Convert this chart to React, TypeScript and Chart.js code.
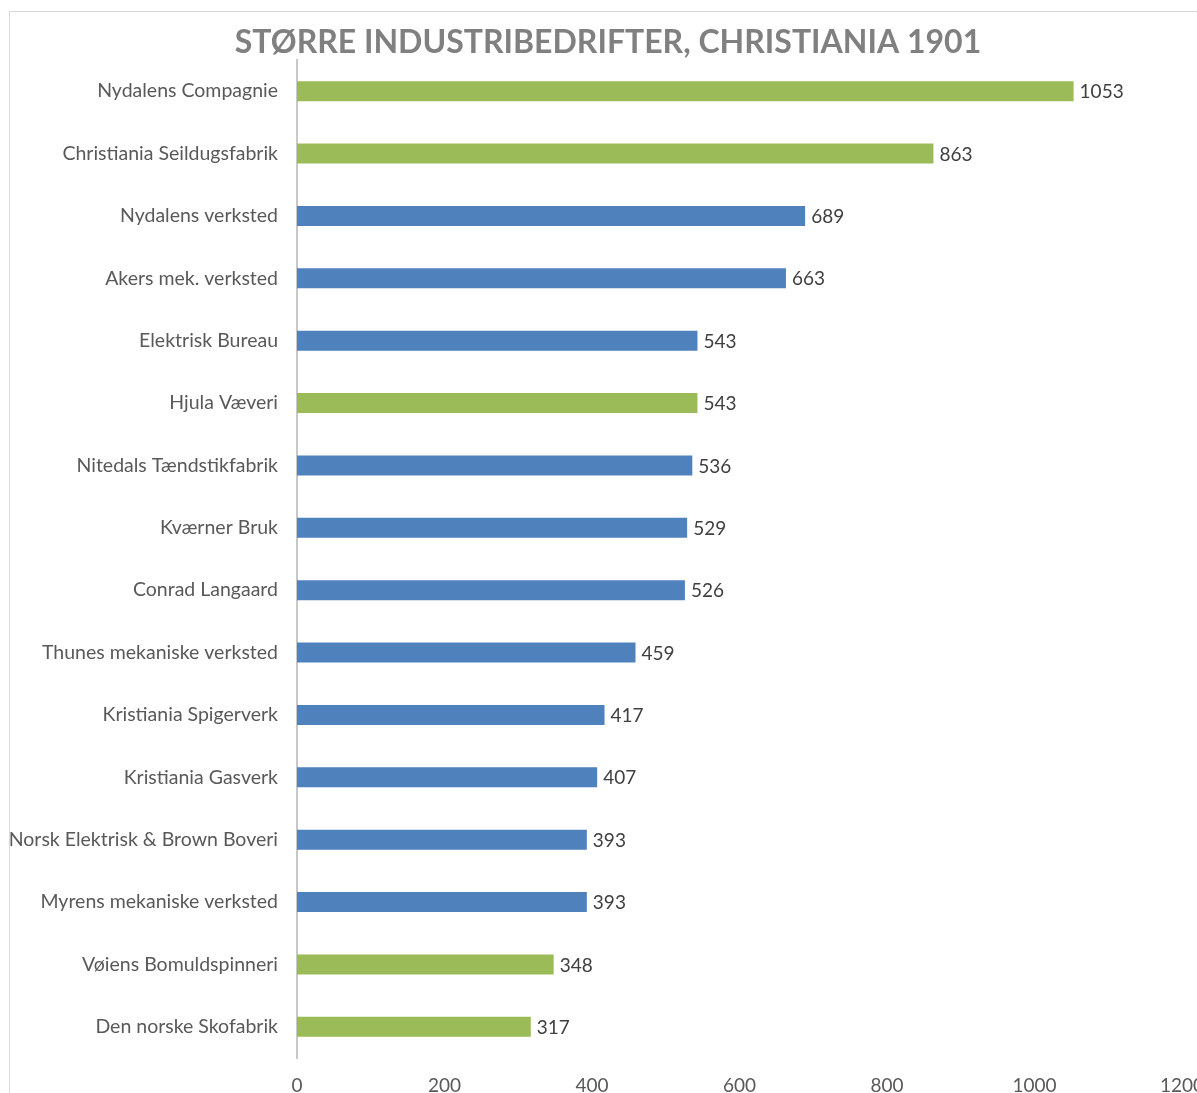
import React, { useEffect, useRef } from "react";
import { Chart, registerables } from "chart.js";

Chart.register(...registerables);

const companies: string[] = [
  "Nydalens Compagnie",
  "Christiania Seildugsfabrik",
  "Nydalens verksted",
  "Akers mek. verksted",
  "Elektrisk Bureau",
  "Hjula Væveri",
  "Nitedals Tændstikfabrik",
  "Kværner Bruk",
  "Conrad Langaard",
  "Thunes mekaniske verksted",
  "Kristiania Spigerverk",
  "Kristiania Gasverk",
  "Norsk Elektrisk & Brown Boveri",
  "Myrens mekaniske verksted",
  "Vøiens Bomuldspinneri",
  "Den norske Skofabrik",
];

const workers: number[] = [1053, 863, 689, 663, 543, 543, 536, 529, 526, 459, 417, 407, 393, 393, 348, 317];

// sector of each company: "tekstil" (green) or "annet" (blue)
const sectors: string[] = [
  "tekstil", "tekstil", "annet", "annet", "annet", "tekstil", "annet", "annet",
  "annet", "annet", "annet", "annet", "annet", "annet", "tekstil", "tekstil",
];

const xTicks: number[] = [0, 200, 400, 600, 800, 1000, 1200];

const TITLE = "STØRRE INDUSTRIBEDRIFTER, CHRISTIANIA 1901";

const sectorColor: Record<string, string> = {
  tekstil: "#9BBB59",
  annet: "#4F81BD",
};

const FONT = "Lato, 'Open Sans', sans-serif";

const valueLabels = {
  id: "valueLabels",
  afterDatasetsDraw(chart: any) {
    const ctx = chart.ctx;
    const meta = chart.getDatasetMeta(0);
    ctx.save();
    ctx.font = `19px ${FONT}`;
    ctx.fillStyle = "#404040";
    ctx.textAlign = "left";
    ctx.textBaseline = "middle";
    meta.data.forEach((el: any, i: number) => {
      const v = chart.data.datasets[0].data[i];
      ctx.fillText(String(v), el.x + 6, el.y + 1);
    });
    ctx.restore();
  },
};

const chartTitle = {
  id: "chartTitle",
  afterDraw(chart: any, _args: any, opts: any) {
    const ctx = chart.ctx;
    ctx.save();
    ctx.font = `bold 32px ${FONT}`;
    ctx.fillStyle = "#808080";
    ctx.textAlign = "center";
    ctx.textBaseline = "alphabetic";
    ctx.fillText(opts.text, 598, 41);
    ctx.restore();
  },
};

export default function App() {
  const ref = useRef<HTMLCanvasElement | null>(null);
  useEffect(() => {
    if (!ref.current) return;
    const chart = new Chart(ref.current, {
      type: "bar",
      data: {
        labels: companies,
        datasets: [
          {
            data: workers,
            backgroundColor: sectors.map((s) => sectorColor[s]),
            barPercentage: 0.32,
            categoryPercentage: 1,
          },
        ],
      },
      options: {
        indexAxis: "y",
        responsive: false,
        animation: false,
        layout: { padding: { left: 0, right: 88, top: 48, bottom: 0 } },
        plugins: {
          legend: { display: false },
          tooltip: { enabled: false },
          title: { display: false },
          chartTitle: { text: TITLE },
        } as any,
        scales: {
          x: {
            min: 0,
            max: 1200,
            afterBuildTicks: (scale: any) => {
              scale.ticks = xTicks.map((v) => ({ value: v }));
            },
            afterFit: (scale: any) => {
              scale.height = 74;
            },
            grid: { display: false, drawTicks: false },
            border: { display: false },
            ticks: {
              color: "#595959",
              font: { family: FONT, size: 19 },
              padding: 16,
              maxRotation: 0,
              callback: (v: any) => String(v),
            },
          },
          y: {
            afterFit: (scale: any) => {
              scale.width = 287;
            },
            grid: { display: false, drawTicks: false },
            border: { display: true, color: "#C8C8C8", width: 2 },
            ticks: {
              color: "#595959",
              font: { family: FONT, size: 19.5 },
              padding: 19,
              autoSkip: false,
            },
          },
        },
      },
      plugins: [valueLabels, chartTitle],
    });
    return () => chart.destroy();
  }, []);

  return (
    <div style={{ position: "fixed", left: 0, top: 0, width: 1197, height: 1093, overflow: "hidden", background: "#fff" }}>
      <div style={{ position: "absolute", left: 9, top: 11, border: "1px solid #D9D9D9", background: "#fff" }}>
        <canvas ref={ref} width={1260} height={1120} style={{ display: "block" }} />
      </div>
    </div>
  );
}
